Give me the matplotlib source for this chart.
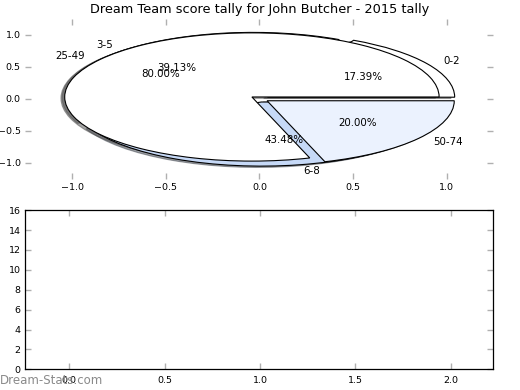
import matplotlib
matplotlib.use("Agg")
import matplotlib.pyplot as plt

title = "Dream Team score tally for John Butcher - 2015 tally"

# inner pie: match scores
score_labels = ["0-2", "3-5", "6-8"]
score_counts = [4, 9, 10]
score_colors = ["#ffffff", "#ffffff", "#c6d9f7"]
score_explode = [0.05, 0.05, 0.05]

# outer pie: points bands
pts_labels = ["25-49", "50-74"]
pts_counts = [4, 1]
pts_colors = ["#ffffff", "#ebf2fe"]
pts_explode = [0.05, 0.05]

pie_ticks = [-1.0, -0.5, 0.0, 0.5, 1.0]
bottom_xticks = [0.0, 0.5, 1.0, 1.5, 2.0]
bottom_yticks = [0, 2, 4, 6, 8, 10, 12, 14, 16]

TICK_FS = 6.8
PIE_FS = 7.4
TICK_GREY = "#b0b0b0"

fig = plt.figure(figsize=(5.2, 3.9), dpi=100)
fig.patch.set_facecolor("white")

ax1 = fig.add_axes([0.049, 0.541, 0.9, 0.411])
wp = {"edgecolor": "black", "linewidth": 0.8}
shadow = {"ox": -0.0144, "oy": -0.0144, "shade": 0.7}
ax1.pie(score_counts, labels=score_labels, colors=score_colors,
        explode=score_explode, autopct="%1.2f%%", shadow=shadow,
        wedgeprops=wp, textprops={"fontsize": PIE_FS})
ax1.pie(pts_counts, labels=pts_labels, colors=pts_colors,
        explode=pts_explode, autopct="%1.2f%%", shadow=shadow,
        wedgeprops=wp, textprops={"fontsize": PIE_FS})
ax1.set_aspect("auto")
ax1.set_xlim(-1.25, 1.25)
ax1.set_ylim(-1.25, 1.25)
ax1.set_xticks(pie_ticks)
ax1.set_yticks(pie_ticks)
ax1.set_frame_on(False)
ax1.tick_params(direction="in", top=True, right=True, length=4, width=1,
                color=TICK_GREY, labelsize=TICK_FS)
ax1.tick_params(axis="x", pad=3)
ax1.tick_params(axis="y", pad=3.5)
ax1.set_title(title, fontsize=9.3, pad=4)

ax2 = fig.add_axes([0.049, 0.053, 0.9, 0.408])
ax2.set_xlim(-0.23, 2.225)
ax2.set_ylim(0, 16)
ax2.set_xticks(bottom_xticks)
ax2.set_yticks(bottom_yticks)
ax2.tick_params(direction="in", top=True, right=True, length=4, width=1,
                color=TICK_GREY, labelsize=TICK_FS)
ax2.tick_params(axis="x", pad=4.5)
ax2.tick_params(axis="y", pad=3.5)
for sp in ax2.spines.values():
    sp.set_linewidth(0.9)

fig.text(0.0, 0.015, "Dream-Stats.com", fontsize=8.5, color="#8a8a8a",
         ha="left", va="baseline")

fig.savefig("out.png", dpi=100)
